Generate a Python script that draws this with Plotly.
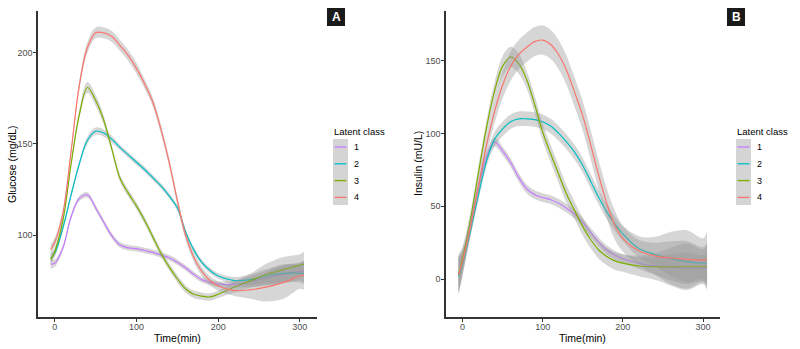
import plotly.graph_objects as go

# ---------------- data ----------------
time = [-5, 0, 10, 20, 30, 40, 50, 60, 70, 80, 90, 100, 110, 120, 130, 140,
        150, 160, 170, 180, 190, 200, 220, 240, 260, 280, 300, 305]

classes = ["1", "2", "3", "4"]
colors = ["#C77CFF", "#00BFC4", "#7CAE00", "#F8766D"]

# Glucose (mg/dL) smoothed means
glu_1 = [84, 84.5, 93, 110, 120, 122, 115, 107, 99.5, 94.5, 93, 92.5, 91.5, 90.5, 89, 87.5,
         85, 82, 78.5, 75.5, 74, 73, 73, 74.5, 76.5, 78.5, 80, 80]
glu_2 = [87.5, 90, 104, 122, 139, 152, 157, 156, 152.5, 148, 144, 140, 136, 131.5, 127, 121.5,
         115, 102, 92, 85, 80.5, 77.5, 75, 75.5, 77.5, 79, 79, 79]
glu_3 = [86.5, 91, 108, 139, 166, 181, 174, 163, 147, 131, 123, 116, 108, 99, 90, 82.5,
         76, 70.5, 67.5, 66.5, 66, 67.5, 71.5, 75, 78.5, 81, 83.5, 84]
glu_4 = [92, 96, 112, 146, 182, 203, 211, 211, 209, 204, 198.5, 191.5, 183, 173, 158, 140,
         119, 100, 88, 80, 75, 72, 69.5, 70, 71.5, 74, 77.5, 78]
# Glucose ribbon half-widths
glu_ci_1 = [2.5, 2, 1.5, 1.5, 1.5, 1.5, 1.5, 1.5, 1.5, 1.5, 1.5, 1.5, 1.5, 1.5, 1.5, 1.5,
            1.5, 1.5, 1.5, 1.5, 1.5, 1.5, 2, 3, 4, 5, 5, 6]
glu_ci_2 = [2.5, 2, 1.5, 1.5, 1.5, 2, 2, 2, 2, 1.5, 1.5, 1.5, 1.5, 1.5, 1.5, 1.5,
            1.5, 1.5, 1.5, 1.5, 1.5, 1.5, 2, 3, 4, 5, 5, 6]
glu_ci_3 = [2.5, 2, 2, 2, 2.5, 3, 3, 2.5, 2, 2, 2, 2, 2, 2, 2, 2,
            2, 2, 2, 2, 2, 2, 3, 4, 6, 7, 6, 7]
glu_ci_4 = [3, 2.5, 2, 2, 2.5, 3, 3, 3, 3, 3, 3, 3, 2.5, 2.5, 2.5, 2.5,
            2.5, 2.5, 2.5, 2.5, 2.5, 2.5, 3, 5, 8, 9, 7, 8]

# Insulin (mU/L) smoothed means
ins_1 = [3, 11, 37, 63, 84, 94, 88, 80, 70, 62, 58, 56, 54.5, 52, 48.5, 44.5,
         39, 32, 25.5, 20, 16.5, 14, 11, 9, 8, 7.5, 7.5, 7.5]
ins_2 = [2, 10, 33, 58, 81, 96, 103, 108, 110, 110, 109.5, 108, 105, 100, 94, 87,
         78, 67, 56, 46, 38, 31, 21, 17, 14, 12, 11, 11]
ins_3 = [3, 14, 41, 73, 104, 129, 146, 152.5, 148, 137, 120, 101, 86, 72, 58, 47,
         36, 27, 20, 15.5, 12.5, 11, 9, 8.5, 8.5, 8.5, 8.5, 8.5]
ins_4 = [3, 12, 36, 64, 92, 115, 133, 146, 154, 159, 163, 164, 161, 154, 143, 128,
         112, 92, 71, 52, 37, 28, 19.5, 16, 14.5, 13.5, 13, 13]
# Insulin ribbon half-widths
ins_ci_1 = [12, 8, 4, 3, 3, 3, 3, 3, 3, 3, 3, 3, 3, 3, 3, 3,
            3, 3, 3, 3, 3, 3, 4, 6, 9, 11, 9, 12]
ins_ci_2 = [12, 8, 4, 4, 4, 5, 5, 5, 5, 5, 5, 5, 5, 5, 5, 5,
            5, 5, 5, 5, 5, 5, 6, 8, 12, 14, 11, 14]
ins_ci_3 = [12, 8, 5, 5, 5, 6, 7, 7, 7, 6, 6, 6, 6, 6, 6, 6,
            6, 6, 6, 6, 6, 6, 7, 9, 13, 16, 12, 16]
ins_ci_4 = [14, 9, 6, 6, 7, 8, 9, 10, 10, 10, 10, 10, 10, 10, 10, 10,
            10, 10, 10, 10, 10, 9, 10, 13, 18, 20, 15, 20]

x_ticks = [0, 100, 200, 300]
glu_ticks = [100, 150, 200]
ins_ticks = [0, 50, 100, 150]

# ---------------- figure ----------------
W, H = 800, 349
FONT = "Liberation Sans, Arial, sans-serif"
RIBBON = "rgba(153,153,153,0.4)"


def px(x):
    return x / W


def py(y):
    return 1 - y / H


fig = go.Figure()

panels = [
    ("x", "y", [glu_1, glu_2, glu_3, glu_4], [glu_ci_1, glu_ci_2, glu_ci_3, glu_ci_4]),
    ("x2", "y2", [ins_1, ins_2, ins_3, ins_4], [ins_ci_1, ins_ci_2, ins_ci_3, ins_ci_4]),
]

for xa, ya, series, cis in panels:
    for name, col, vals, ci in zip(classes, colors, series, cis):
        upper = [v + c for v, c in zip(vals, ci)]
        lower = [v - c for v, c in zip(vals, ci)]
        fig.add_trace(go.Scatter(x=time, y=upper, xaxis=xa, yaxis=ya, mode="lines",
                                 line=dict(width=0, shape="spline", smoothing=1.0),
                                 hoverinfo="skip", showlegend=False))
        fig.add_trace(go.Scatter(x=time, y=lower, xaxis=xa, yaxis=ya, mode="lines",
                                 line=dict(width=0, shape="spline", smoothing=1.0),
                                 fill="tonexty", fillcolor=RIBBON,
                                 hoverinfo="skip", showlegend=False))
        fig.add_trace(go.Scatter(x=time, y=vals, xaxis=xa, yaxis=ya, mode="lines",
                                 name=name,
                                 line=dict(color=col, width=1.2, shape="spline", smoothing=1.0),
                                 showlegend=False))

axis_common = dict(showgrid=False, zeroline=False, showline=True, linecolor="#333333",
                   linewidth=1.5, ticks="outside", ticklen=3, tickcolor="#333333",
                   tickfont=dict(family=FONT, size=9, color="#4d4d4d"))

xr = [-20.5, 320.5]
fig.update_layout(
    width=W, height=H,
    margin=dict(l=0, r=0, t=0, b=0),
    paper_bgcolor="white", plot_bgcolor="white",
    font=dict(family=FONT),
    showlegend=False,
    xaxis=dict(domain=[px(38), px(316.6)], range=xr, tickvals=x_ticks, anchor="y",
               ticklabelstandoff=-3, **axis_common),
    yaxis=dict(domain=[py(317), py(11)], range=[55, 223], tickvals=glu_ticks, anchor="x",
               ticklabelstandoff=-1, **axis_common),
    xaxis2=dict(domain=[px(446), px(719.5)], range=xr, tickvals=x_ticks, anchor="y2",
                ticklabelstandoff=-3, **axis_common),
    yaxis2=dict(domain=[py(317), py(11)], range=[-26, 184], tickvals=ins_ticks, anchor="x2",
                ticklabelstandoff=-1, **axis_common),
)

ann = []
shapes = []


def add_text(text, x, y, size, color="black", xanchor="center", angle=0):
    ann.append(dict(text=text, x=px(x), y=py(y), xref="paper", yref="paper",
                    xanchor=xanchor, yanchor="middle", showarrow=False, textangle=angle,
                    font=dict(size=size, color=color)))


# axis titles
add_text("Time(min)", 177, 338, 10.5)
add_text("Time(min)", 582, 338, 10.5)
add_text("Glucose (mg/dL)", 12, 164, 10.5, angle=-90)
add_text("Insulin (mU/L)", 418, 164, 10.5, angle=-90)

# legends
for lx in (332, 735):
    add_text("Latent class", lx, 131, 9.5, xanchor="left")
    shapes.append(dict(type="rect", xref="paper", yref="paper",
                       x0=px(lx + 1), x1=px(lx + 16), y0=py(139), y1=py(205),
                       fillcolor="#d4d4d4", line=dict(width=0)))
    for k, (name, col) in enumerate(zip(classes, colors)):
        yk = 147 + k * 16.8
        shapes.append(dict(type="line", xref="paper", yref="paper",
                           x0=px(lx + 2.5), x1=px(lx + 14.5), y0=py(yk), y1=py(yk),
                           line=dict(color=col, width=1.3)))
        add_text(name, lx + 20, yk, 9, xanchor="left")

# panel labels
for cx, lab in ((336, "A"), (736, "B")):
    shapes.append(dict(type="rect", xref="paper", yref="paper",
                       x0=px(cx - 9), x1=px(cx + 9), y0=py(26), y1=py(8),
                       fillcolor="#1a1a1a", line=dict(width=0)))
    add_text("<b>" + lab + "</b>", cx, 17, 12, color="white")

fig.update_layout(annotations=ann, shapes=shapes)
fig.write_html("out.html", config={"displayModeBar": False},
               post_script="document.body.style.margin='0';document.body.style.overflow='hidden';")
